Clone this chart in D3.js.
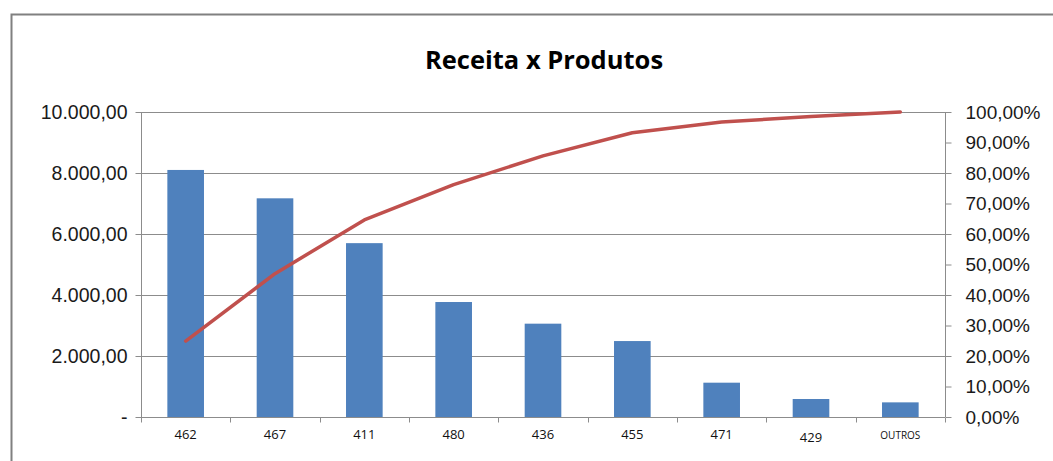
<!DOCTYPE html>
<html>
<head>
<meta charset="utf-8">
<script src="https://cdn.jsdelivr.net/npm/d3@7"></script>
<style>
  body { margin: 0; background: #fff; }
  svg { display: block; font-family: Lato, "Open Sans", sans-serif; }
</style>
</head>
<body>
<div id="chart"></div>
<script>
// Data
const produtos = ["462", "467", "411", "480", "436", "455", "471", "429", "OUTROS"];
const receita = [8100, 7170, 5700, 3770, 3060, 2490, 1125, 590, 480];
const acumulado = [0.249, 0.470, 0.646, 0.762, 0.856, 0.932, 0.967, 0.985, 1.0];
const leftTicks = [0, 2000, 4000, 6000, 8000, 10000];
const rightTicks = [0, 0.1, 0.2, 0.3, 0.4, 0.5, 0.6, 0.7, 0.8, 0.9, 1.0];

const width = 1053, height = 461;
const margin = { top: 112, right: 108, bottom: 44, left: 141 };

const svg = d3.select("#chart").append("svg")
  .attr("width", width)
  .attr("height", height);

// Chart frame (only top and left edges visible in the crop)
svg.append("path")
  .attr("d", `M11.5,${height} V14.5 H${width}`)
  .attr("fill", "none")
  .attr("stroke", "#808080")
  .attr("stroke-width", 2);

// Title
svg.append("text")
  .attr("x", 544)
  .attr("y", 69)
  .attr("text-anchor", "middle")
  .style("font-family", "'Open Sans', sans-serif")
  .style("font-size", "25.5px")
  .style("font-weight", "bold")
  .attr("fill", "#000")
  .text("Receita x Produtos");

// Scales
const x = d3.scaleBand()
  .domain(produtos)
  .range([margin.left, width - margin.right])
  .paddingInner(0.59)
  .paddingOuter(0.295);

const step = x.step();

const y = d3.scaleLinear()
  .domain([0, 10000])
  .range([height - margin.bottom, margin.top]);

const y2 = d3.scaleLinear()
  .domain([0, 1])
  .range([height - margin.bottom, margin.top]);

const fmtNum = d => d === 0 ? "-" : d3.format(",.2f")(d).replace(/,/g, "#").replace(".", ",").replace(/#/g, ".");
const fmtPct = d => d3.format(".2f")(d * 100).replace(".", ",") + "%";

// Gridlines
svg.append("g")
  .selectAll("line")
  .data(leftTicks.filter(d => d > 0))
  .join("line")
  .attr("x1", margin.left)
  .attr("x2", width - margin.right)
  .attr("y1", d => Math.round(y(d)) + 0.5)
  .attr("y2", d => Math.round(y(d)) + 0.5)
  .attr("stroke", "#8c8c8c")
  .attr("stroke-width", 1);

// Bars
svg.append("g")
  .selectAll("rect")
  .data(produtos)
  .join("rect")
  .attr("x", d => x(d))
  .attr("y", (d, i) => y(receita[i]))
  .attr("width", x.bandwidth())
  .attr("height", (d, i) => y(0) - y(receita[i]))
  .attr("fill", "#4f81bd");

// Left axis
const leftAxis = svg.append("g")
  .attr("transform", `translate(${margin.left + 0.5},0)`)
  .call(d3.axisLeft(y).tickValues(leftTicks).tickFormat(fmtNum).tickSize(6).tickPadding(8));
leftAxis.select(".domain").attr("stroke", "#8c8c8c").attr("d", `M0,${y(0)}V${y(10000)}`);
leftAxis.selectAll(".tick line").attr("stroke", "#8c8c8c");
leftAxis.selectAll(".tick text")
  .style("font-size", "19.5px")
  .attr("fill", "#1a1a1a");

// Right axis
const rightAxis = svg.append("g")
  .attr("transform", `translate(${width - margin.right + 0.5},0)`)
  .call(d3.axisRight(y2).tickValues(rightTicks).tickFormat(fmtPct).tickSize(6).tickPadding(14));
rightAxis.select(".domain").attr("stroke", "#8c8c8c").attr("d", `M0,${y2(0)}V${y2(1)}`);
rightAxis.selectAll(".tick line").attr("stroke", "#8c8c8c");
rightAxis.selectAll(".tick text")
  .style("font-size", "19px")
  .attr("fill", "#1a1a1a");

// Bottom axis: baseline plus ticks at category boundaries
const base = Math.round(y(0)) + 0.5;
svg.append("line")
  .attr("x1", margin.left)
  .attr("x2", width - margin.right)
  .attr("y1", base)
  .attr("y2", base)
  .attr("stroke", "#8c8c8c");

svg.append("g")
  .selectAll("line")
  .data(d3.range(produtos.length + 1))
  .join("line")
  .attr("x1", i => Math.round(margin.left + i * step) + 0.5)
  .attr("x2", i => Math.round(margin.left + i * step) + 0.5)
  .attr("y1", base)
  .attr("y2", base + 5)
  .attr("stroke", "#8c8c8c");

svg.append("g")
  .selectAll("text")
  .data(produtos)
  .join("text")
  .attr("x", d => x(d) + x.bandwidth() / 2)
  .attr("y", d => d === "429" ? 442 : 439)
  .attr("text-anchor", "middle")
  .style("font-family", "'Open Sans', sans-serif")
  .style("font-size", d => d === "OUTROS" ? "10px" : "13px")
  .attr("fill", "#111")
  .text(d => d);

// Cumulative percentage line
const line = d3.line()
  .x((d, i) => x(produtos[i]) + x.bandwidth() / 2)
  .y(d => y2(d));

svg.append("path")
  .datum(acumulado)
  .attr("d", line)
  .attr("fill", "none")
  .attr("stroke", "#c0504d")
  .attr("stroke-width", 3.5)
  .attr("stroke-linejoin", "round")
  .attr("stroke-linecap", "round");
</script>
</body>
</html>
